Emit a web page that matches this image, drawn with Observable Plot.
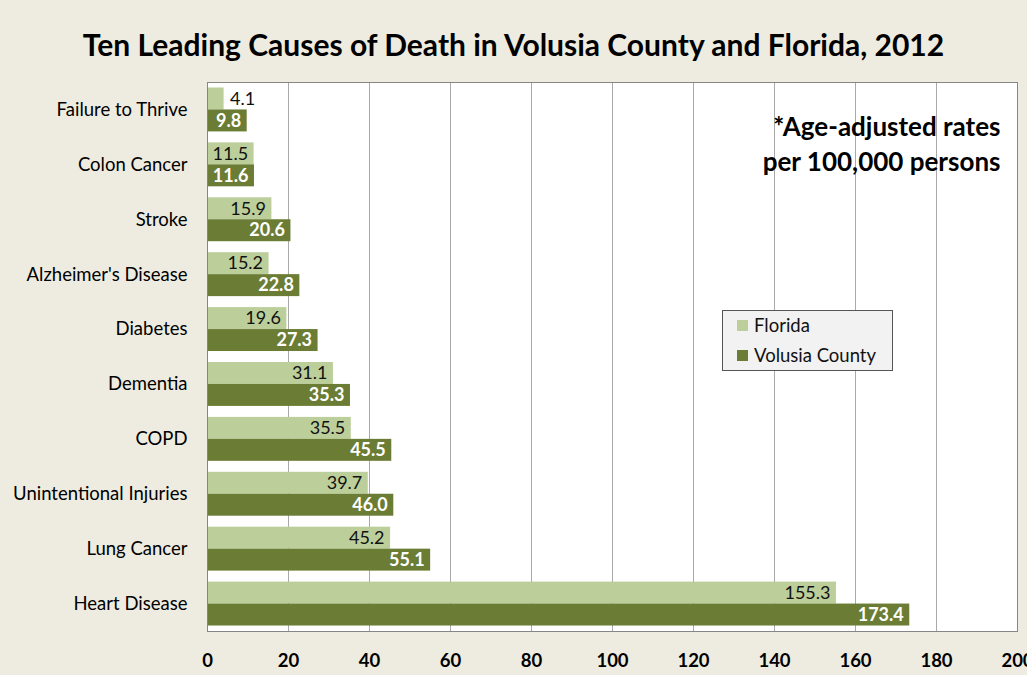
<!DOCTYPE html>
<html>
<head>
<meta charset="utf-8">
<script src="https://cdn.jsdelivr.net/npm/d3@7"></script>
<script src="https://cdn.jsdelivr.net/npm/@observablehq/plot@0.6"></script>
<style>
  html, body { margin: 0; padding: 0; background: #EEECE1; }
  #wrap { position: relative; width: 1027px; height: 675px; background: #EEECE1; font-family: Lato, "Open Sans", sans-serif; overflow: hidden; }
  #title { position: absolute; left: 0; width: 1027px; top: 25px; text-align: center; font-weight: bold; font-size: 30px; color: #000; line-height: 38px; }
  #chart { position: absolute; left: 0; top: 70px; }
  #legend { position: absolute; left: 722px; top: 310px; width: 169px; height: 59px; background: #F2F2F2; border: 1px solid #555; font-size: 18.5px; color: #111; }
  .item { position: absolute; left: 14px; display: flex; align-items: center; }
  .sw { width: 11px; height: 11px; margin-right: 6px; }
</style>
</head>
<body>
<div id="wrap">
  <div id="title">Ten Leading Causes of Death in Volusia County and Florida, 2012</div>
  <div id="chart"></div>
  <div id="legend"></div>
</div>
<script>
const causes = ["Failure to Thrive", "Colon Cancer", "Stroke", "Alzheimer's Disease", "Diabetes", "Dementia", "COPD", "Unintentional Injuries", "Lung Cancer", "Heart Disease"];
const florida = [4.1, 11.5, 15.9, 15.2, 19.6, 31.1, 35.5, 39.7, 45.2, 155.3];
const volusia = [9.8, 11.6, 20.6, 22.8, 27.3, 35.3, 45.5, 46.0, 55.1, 173.4];
const xTicks = [0, 20, 40, 60, 80, 100, 120, 140, 160, 180, 200];
const seriesNames = ["Florida", "Volusia County"];
const seriesColors = ["#BCCF9A", "#6B7C34"];
const noteLines = ["*Age-adjusted rates", "per 100,000 persons"];

const rowsFL = causes.map((c, i) => ({cause: c, value: florida[i]}));
const rowsVC = causes.map((c, i) => ({cause: c, value: volusia[i]}));

const width = 1027, height = 605;
const marginTop = 12, marginBottom = 44, marginLeft = 207, marginRight = 10;
const step = (height - marginTop - marginBottom) / (causes.length - 0.2 + 0.2);
const half = step * 0.8 / 2;
const font = "Lato, 'Open Sans', sans-serif";

const plot = Plot.plot({
  width, height, marginTop, marginBottom, marginLeft, marginRight,
  style: {fontFamily: font, background: "transparent", color: "#000"},
  x: {domain: [0, 200], ticks: xTicks, label: null},
  y: {domain: causes, paddingInner: 0.2, paddingOuter: 0.1, round: false, label: null},
  marks: [
    Plot.frame({fill: "#fff"}),
    Plot.gridX(xTicks, {stroke: "#A9A9A9", strokeOpacity: 1}),
    Plot.barX(rowsFL, {x: "value", y: "cause", fill: seriesColors[0], insetBottom: half}),
    Plot.barX(rowsVC, {x: "value", y: "cause", fill: seriesColors[1], insetTop: half}),
    Plot.text(rowsFL.filter(d => d.value >= 8), {x: "value", y: "cause", text: d => d.value.toFixed(1), textAnchor: "end", dx: -6, dy: -half / 2, fill: "#111", fontSize: 18}),
    Plot.text(rowsFL.filter(d => d.value < 8), {x: "value", y: "cause", text: d => d.value.toFixed(1), textAnchor: "start", dx: 6, dy: -half / 2, fill: "#111", fontSize: 18}),
    Plot.text(rowsVC, {x: "value", y: "cause", text: d => d.value.toFixed(1), textAnchor: "end", dx: -6, dy: half / 2, fill: "#fff", fontSize: 18, fontWeight: "bold"}),
    Plot.frame({stroke: "#868686"}),
    Plot.axisX({ticks: xTicks, tickSize: 0, tickPadding: 22, fontSize: 18.5, fontWeight: "bold", tickFormat: d => d}),
    Plot.axisY({tickSize: 0, tickPadding: 20, fontSize: 18.5}),
    Plot.text([noteLines[0]], {frameAnchor: "top-right", lineAnchor: "middle", text: d => d, dx: -17, dy: 45, fontSize: 26, fontWeight: "bold", textAnchor: "end", fill: "#000"}),
    Plot.text([noteLines[1]], {frameAnchor: "top-right", lineAnchor: "middle", text: d => d, dx: -17, dy: 80, fontSize: 26, fontWeight: "bold", textAnchor: "end", fill: "#000"})
  ]
});
document.getElementById("chart").appendChild(plot);

const legend = document.getElementById("legend");
seriesNames.forEach((name, i) => {
  const item = document.createElement("div");
  item.className = "item";
  item.style.top = (i === 0 ? 3 : 33) + "px";
  item.innerHTML = `<span class="sw" style="background:${seriesColors[i]}"></span><span>${name}</span>`;
  legend.appendChild(item);
});
</script>
</body>
</html>
